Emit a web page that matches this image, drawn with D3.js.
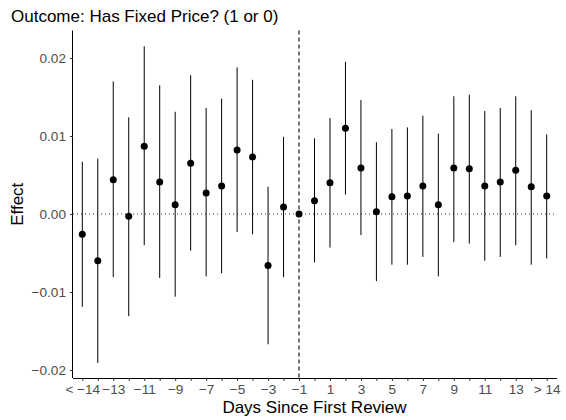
<!DOCTYPE html>
<html>
<head>
<meta charset="utf-8">
<script src="https://cdn.jsdelivr.net/npm/d3@7"></script>
<style>
  body { margin: 0; background: #fff; }
  text { font-family: "Liberation Sans", Arial, sans-serif; }
</style>
</head>
<body>
<script>
// categories: days since first review, binned at the ends
var days = ['< \u221214'];
for (var d = -14; d <= 14; d++) days.push(String(d));
days.push('> 14');
// shown labels (every other category)
var tickLabels = ['< \u221214', '\u221213', '\u221211', '\u22129', '\u22127', '\u22125', '\u22123', '\u22121',
  '1', '3', '5', '7', '9', '11', '13', '> 14'];

var estimate = [-0.0026, -0.0060, 0.0044, -0.0003, 0.0087, 0.0041, 0.0012, 0.0065, 0.0027, 0.0036,
  0.0082, 0.0073, -0.0066, 0.0009, 0, 0.0017, 0.0040, 0.0110, 0.0059, 0.0003,
  0.0022, 0.0023, 0.0036, 0.0012, 0.0059, 0.0058, 0.0036, 0.0041, 0.0056, 0.0035, 0.0023];
var ciLow = [-0.0119, -0.0191, -0.0081, -0.0131, -0.0040, -0.0082, -0.0106, -0.0047, -0.0080, -0.0076,
  -0.0023, -0.0026, -0.0167, -0.0081, 0, -0.0062, -0.0043, 0.0025, -0.0027, -0.0086,
  -0.0065, -0.0065, -0.0055, -0.0080, -0.0036, -0.0038, -0.0060, -0.0055, -0.0040, -0.0065, -0.0057];
var ciHigh = [0.0067, 0.0071, 0.0170, 0.0124, 0.0215, 0.0165, 0.0131, 0.0178, 0.0136, 0.0148,
  0.0188, 0.0172, 0.0035, 0.0099, 0, 0.0097, 0.0123, 0.0195, 0.0146, 0.0092,
  0.0109, 0.0111, 0.0126, 0.0103, 0.0151, 0.0153, 0.0132, 0.0136, 0.0151, 0.0133, 0.0102];
var yTicks = [-0.02, -0.01, 0, 0.01, 0.02];

var width = 566, height = 420;
var margin = {top: 30.5, right: 9, bottom: 42, left: 73};

var svg = d3.select('body').append('svg').attr('width', width).attr('height', height);

var xScale = d3.scalePoint().domain(days).range([82.3, 546.7]);
var yScale = d3.scaleLinear().domain([-0.02, 0.02]).range([370, 58]);

var plotBottom = height - margin.bottom;

// reference lines
svg.append('line')
  .attr('x1', margin.left).attr('x2', width - margin.right)
  .attr('y1', yScale(0)).attr('y2', yScale(0))
  .attr('stroke', '#333').attr('stroke-width', 1).attr('stroke-dasharray', '1,3');
svg.append('line')
  .attr('x1', xScale('-1')).attr('x2', xScale('-1'))
  .attr('y1', margin.top).attr('y2', plotBottom)
  .attr('stroke', '#000').attr('stroke-width', 1.1).attr('stroke-dasharray', '4,3');

var idx = d3.range(days.length);
// error bars
svg.append('g').selectAll('line').data(idx.filter(i => ciHigh[i] !== ciLow[i])).enter().append('line')
  .attr('x1', i => xScale(days[i])).attr('x2', i => xScale(days[i]))
  .attr('y1', i => yScale(ciLow[i])).attr('y2', i => yScale(ciHigh[i]))
  .attr('stroke', '#000').attr('stroke-width', 1);
// points
svg.append('g').selectAll('circle').data(idx).enter().append('circle')
  .attr('cx', i => xScale(days[i])).attr('cy', i => yScale(estimate[i]))
  .attr('r', 3.5).attr('fill', '#000');

// axes
var xAxis = d3.axisBottom(xScale).tickSize(3).tickPadding(3)
  .tickFormat((d, i) => i % 2 === 0 ? tickLabels[i / 2] : '');
var gx = svg.append('g').attr('transform', 'translate(0,' + plotBottom + ')').call(xAxis);
gx.select('.domain').attr('d', 'M' + margin.left + ',0.5H' + (width - margin.right));

var yAxis = d3.axisLeft(yScale).tickValues(yTicks).tickSize(3).tickPadding(4)
  .tickFormat(d => d3.format('.2f')(d).replace('-', '\u2212'));
var gy = svg.append('g').attr('transform', 'translate(' + margin.left + ',0)').call(yAxis);
gy.select('.domain').attr('d', 'M-0.5,' + margin.top + 'V' + plotBottom);

svg.selectAll('.tick text').attr('font-size', 13.6).attr('fill', '#4d4d4d')
  .attr('font-family', '"Liberation Sans", Arial, sans-serif');
svg.selectAll('.tick line').attr('stroke', '#333');
svg.selectAll('.domain').attr('stroke', '#000');

// titles
svg.append('text').attr('x', 11).attr('y', 22).attr('font-size', 17).attr('fill', '#000')
  .text('Outcome: Has Fixed Price? (1 or 0)');
svg.append('text').attr('x', 314.5).attr('y', 413)
  .attr('text-anchor', 'middle').attr('font-size', 17).attr('fill', '#000')
  .text('Days Since First Review');
svg.append('text').attr('transform', 'translate(23,' + ((margin.top + plotBottom) / 2) + ') rotate(-90)')
  .attr('text-anchor', 'middle').attr('font-size', 17).attr('fill', '#000')
  .text('Effect');
</script>
</body>
</html>
